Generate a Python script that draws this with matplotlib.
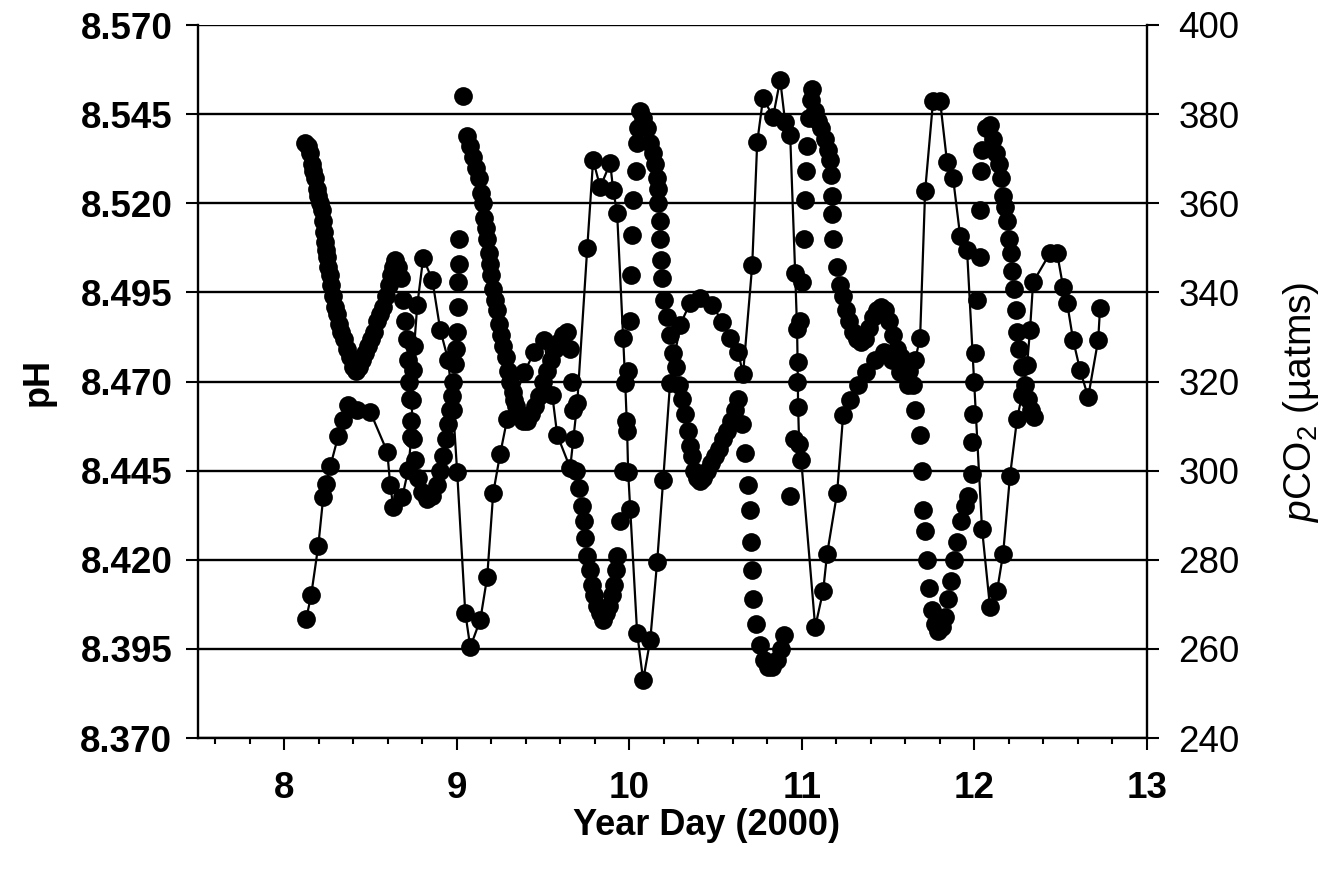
#!/usr/bin/env python3
import matplotlib

matplotlib.use("Agg")
import matplotlib.pyplot as plt
from matplotlib.ticker import FormatStrFormatter, MultipleLocator

plt.rcParams["font.family"] = ["Liberation Sans", "DejaVu Sans"]
plt.rcParams["mathtext.fontset"] = "custom"
plt.rcParams["mathtext.rm"] = "Liberation Sans"
plt.rcParams["mathtext.it"] = "Liberation Sans:italic"

# pH record (dense sampling, drawn as markers only)
PH_DAY = [
    8.122, 8.139, 8.151, 8.162, 8.168, 8.180, 8.191, 8.197, 8.209, 8.220,
    8.226, 8.232, 8.238, 8.243, 8.249, 8.255, 8.267, 8.272, 8.284, 8.296,
    8.307, 8.319, 8.330, 8.348, 8.365, 8.382, 8.400, 8.417, 8.435, 8.452,
    8.469, 8.487, 8.504, 8.521, 8.539, 8.556, 8.574, 8.591, 8.608, 8.620,
    8.632, 8.643, 8.661, 8.678,
    8.689, 8.701, 8.713, 8.718, 8.724, 8.730, 8.736, 8.747, 8.759, 8.776,
    8.800, 8.829, 8.858, 8.886, 8.904, 8.921, 8.939, 8.950, 8.962, 8.973,
    8.979, 8.991, 8.997, 9.002, 9.004, 9.008, 9.010, 9.012, 9.037,
    9.060, 9.078, 9.095, 9.112, 9.130, 9.141, 9.153, 9.159, 9.170, 9.176,
    9.188, 9.194, 9.199, 9.211, 9.223, 9.234, 9.246, 9.257, 9.269, 9.286,
    9.298, 9.309, 9.327, 9.344, 9.362, 9.385, 9.408, 9.431, 9.454, 9.477,
    9.501, 9.524, 9.547, 9.570, 9.593, 9.617, 9.640,
    9.657, 9.669, 9.675, 9.680, 9.692, 9.709, 9.727, 9.738, 9.744, 9.756,
    9.773, 9.785, 9.796, 9.814, 9.831, 9.848, 9.866, 9.883, 9.900, 9.912,
    9.924, 9.929, 9.947, 9.964, 9.982, 9.993, 10.005, 10.011, 10.016, 10.022,
    10.039, 10.042, 10.051, 10.063,
    10.080, 10.103, 10.121, 10.138, 10.150, 10.161, 10.164, 10.167, 10.178, 10.180,
    10.184, 10.190, 10.201, 10.219, 10.236, 10.254, 10.271, 10.289, 10.306, 10.323,
    10.341, 10.352, 10.364, 10.376, 10.393, 10.410, 10.428, 10.451, 10.474, 10.497,
    10.520, 10.544, 10.567, 10.590, 10.613, 10.630,
    10.654, 10.671, 10.688, 10.700, 10.706, 10.712, 10.717, 10.735, 10.758, 10.781,
    10.804, 10.828, 10.856, 10.880, 10.897,
    10.932, 10.955, 10.973, 10.991, 11.002, 11.014, 11.019, 11.021, 11.031, 11.043,
    11.054, 11.060,
    11.077, 11.095, 11.112, 11.135, 11.153, 11.164, 11.170, 11.173, 11.176, 11.182,
    11.205, 11.222,
    11.239, 11.257, 11.274, 11.297, 11.320, 11.343, 11.367, 11.390, 11.413, 11.436,
    11.459, 11.482, 11.506, 11.529, 11.552, 11.575, 11.598, 11.622, 11.645, 11.656,
    11.685, 11.696, 11.702, 11.714, 11.726, 11.737, 11.754, 11.772, 11.789, 11.812,
    11.830, 11.847, 11.865, 11.882, 11.900, 11.923, 11.946, 11.963, 11.986, 11.988,
    11.994, 11.998, 12.003, 12.015, 12.032, 12.034, 12.038, 12.044, 12.067, 12.090,
    12.108, 12.125, 12.143, 12.154, 12.166, 12.177, 12.189, 12.201, 12.212, 12.218,
    12.230, 12.241, 12.247, 12.259, 12.276, 12.293, 12.311, 12.328, 12.345,
]
PH_VALUE = [
    8.537, 8.536, 8.534, 8.531, 8.529, 8.527, 8.524, 8.522, 8.520, 8.518,
    8.515, 8.512, 8.509, 8.507, 8.505, 8.502, 8.500, 8.497, 8.494, 8.491,
    8.489, 8.486, 8.484, 8.482, 8.479, 8.477, 8.474, 8.473, 8.474, 8.476,
    8.478, 8.480, 8.482, 8.484, 8.487, 8.489, 8.491, 8.494, 8.497, 8.500,
    8.502, 8.504, 8.502, 8.499,
    8.493, 8.487, 8.482, 8.476, 8.470, 8.465, 8.459, 8.454, 8.448, 8.443,
    8.439, 8.437, 8.438, 8.441, 8.445, 8.449, 8.454, 8.458, 8.462, 8.466,
    8.470, 8.475, 8.479, 8.484, 8.491, 8.498, 8.503, 8.510, 8.550,
    8.539, 8.536, 8.533, 8.530, 8.527, 8.523, 8.520, 8.516, 8.513, 8.510,
    8.506, 8.503, 8.500, 8.496, 8.493, 8.490, 8.486, 8.483, 8.480, 8.477,
    8.473, 8.470, 8.467, 8.463, 8.461, 8.459, 8.459, 8.461, 8.463, 8.466,
    8.470, 8.473, 8.476, 8.479, 8.481, 8.483, 8.484,
    8.479, 8.470, 8.462, 8.454, 8.445, 8.440, 8.435, 8.431, 8.426, 8.421,
    8.417, 8.413, 8.410, 8.407, 8.405, 8.403, 8.405, 8.407, 8.410, 8.413,
    8.417, 8.421, 8.431, 8.445, 8.459, 8.473, 8.487, 8.500, 8.511, 8.521,
    8.529, 8.537, 8.541, 8.546,
    8.544, 8.541, 8.537, 8.534, 8.531, 8.527, 8.524, 8.520, 8.515, 8.510,
    8.504, 8.499, 8.493, 8.488, 8.483, 8.478, 8.474, 8.469, 8.465, 8.461,
    8.456, 8.452, 8.449, 8.445, 8.443, 8.442, 8.443, 8.445, 8.447, 8.449,
    8.451, 8.454, 8.456, 8.459, 8.462, 8.465,
    8.458, 8.450, 8.441, 8.434, 8.425, 8.417, 8.409, 8.402, 8.396, 8.392,
    8.390, 8.390, 8.392, 8.395, 8.399,
    8.438, 8.454, 8.470, 8.487, 8.498, 8.510, 8.521, 8.529, 8.536, 8.544,
    8.549, 8.552,
    8.546, 8.543, 8.541, 8.538, 8.535, 8.532, 8.528, 8.522, 8.517, 8.510,
    8.502, 8.497,
    8.494, 8.490, 8.487, 8.484, 8.482, 8.481, 8.482, 8.485, 8.488, 8.490,
    8.491, 8.490, 8.487, 8.483, 8.479, 8.477, 8.474, 8.473, 8.469, 8.462,
    8.455, 8.445, 8.434, 8.428, 8.420, 8.412, 8.406, 8.402, 8.400, 8.401,
    8.404, 8.409, 8.414, 8.420, 8.425, 8.431, 8.435, 8.438, 8.444, 8.453,
    8.461, 8.470, 8.478, 8.493, 8.505, 8.518, 8.529, 8.535, 8.541, 8.542,
    8.538, 8.534, 8.531, 8.527, 8.522, 8.519, 8.515, 8.510, 8.506, 8.501,
    8.496, 8.490, 8.484, 8.479, 8.474, 8.469, 8.465, 8.462, 8.460,
]

# pCO2 record (markers joined by a line)
PCO2_DAY = [
    8.127, 8.156, 8.197, 8.226, 8.243, 8.267, 8.313, 8.342, 8.371, 8.423,
    8.498, 8.597, 8.614, 8.632, 8.684, 8.718, 8.736, 8.742, 8.747, 8.753,
    8.771, 8.805, 8.858, 8.904, 8.950, 8.979, 9.002, 9.049, 9.078, 9.136,
    9.176, 9.211, 9.251, 9.292, 9.333, 9.391, 9.449, 9.506, 9.553, 9.582,
    9.657, 9.698, 9.756, 9.790, 9.831, 9.889, 9.906, 9.929, 9.964, 9.976,
    9.987, 9.993, 10.005, 10.045, 10.080, 10.121, 10.161, 10.196, 10.236, 10.294,
    10.352, 10.410, 10.480, 10.538, 10.584, 10.630, 10.659, 10.712, 10.741, 10.775,
    10.833, 10.874, 10.903, 10.932, 10.961, 10.972, 10.975, 10.978, 10.984, 10.996,
    11.077, 11.123, 11.146, 11.204, 11.239, 11.279, 11.326, 11.372, 11.425, 11.477,
    11.523, 11.569, 11.615, 11.656, 11.685, 11.714, 11.760, 11.801, 11.841, 11.876,
    11.917, 11.957, 12.044, 12.090, 12.131, 12.166, 12.206, 12.247, 12.276, 12.305,
    12.322, 12.340, 12.438, 12.479, 12.514, 12.537, 12.572, 12.612, 12.659, 12.717,
    12.728,
]
PCO2_VALUE = [
    266.7, 272.1, 283.1, 294.1, 297.0, 301.0, 307.8, 311.4, 314.7, 313.6,
    313.2, 304.2, 296.8, 291.8, 294.1, 300.1, 307.5, 315.9, 322.6, 328.0,
    337.2, 347.7, 342.8, 331.6, 324.8, 313.6, 299.7, 268.1, 260.4, 266.5,
    276.1, 295.0, 303.7, 311.6, 315.9, 322.1, 326.6, 329.3, 317.0, 308.0,
    300.6, 315.2, 350.0, 369.7, 363.6, 369.0, 363.0, 357.8, 329.8, 319.7,
    308.9, 299.7, 291.4, 263.6, 253.0, 262.0, 279.5, 297.9, 319.7, 332.7,
    337.6, 338.7, 337.2, 333.4, 329.8, 326.6, 321.7, 346.1, 373.7, 383.6,
    379.4, 387.7, 378.2, 375.3, 344.3, 331.8, 324.4, 314.3, 306.0, 302.4,
    264.9, 273.0, 281.3, 295.0, 312.5, 315.9, 319.2, 322.1, 324.8, 326.6,
    324.8, 322.1, 319.2, 324.8, 329.8, 362.7, 382.9, 382.9, 369.3, 365.7,
    352.7, 349.5, 286.9, 269.4, 273.0, 281.3, 298.8, 311.6, 317.0, 323.7,
    331.6, 342.3, 348.8, 348.8, 341.2, 337.6, 329.3, 322.6, 316.5, 329.3,
    336.5,
]

X_TICKS = [8, 9, 10, 11, 12, 13]
PH_TICKS = [8.370, 8.395, 8.420, 8.445, 8.470, 8.495, 8.520, 8.545, 8.570]
PCO2_TICKS = [240, 260, 280, 300, 320, 340, 360, 380, 400]

TICK_SIZE = 26.5
LABEL_SIZE = 26
MARKER_SIZE = 13.5

fig = plt.figure(figsize=(13.31, 8.69), dpi=100)
ax = fig.add_axes([198 / 1331, 131 / 869, 949 / 1331, 713 / 869])
ax2 = ax.twinx()

ax.plot(PH_DAY, PH_VALUE, linestyle="none", marker="o", markersize=MARKER_SIZE,
        color="black", markeredgewidth=0)
ax2.plot(PCO2_DAY, PCO2_VALUE, linestyle="-", linewidth=1.6, marker="o",
         markersize=MARKER_SIZE, color="black", markeredgewidth=0)

ax.set_xlim(7.5, 13)
ax.set_ylim(PH_TICKS[0], PH_TICKS[-1])
ax2.set_ylim(PCO2_TICKS[0], PCO2_TICKS[-1])

ax.set_xticks(X_TICKS)
ax.xaxis.set_minor_locator(MultipleLocator(0.2))
ax.set_yticks(PH_TICKS)
ax.yaxis.set_major_formatter(FormatStrFormatter("%.3f"))
ax2.set_yticks(PCO2_TICKS)

ax.set_axisbelow(True)
ax.grid(axis="y", color="black", linewidth=1.7)

for a in (ax, ax2):
    for side in ("left", "right", "bottom", "top"):
        a.spines[side].set_linewidth(1.7)
    a.spines["top"].set_visible(False)
ax.spines["right"].set_visible(False)
ax2.spines["left"].set_visible(False)
ax2.spines["bottom"].set_visible(False)

ax.tick_params(axis="both", which="major", direction="out", length=8.5, width=1.5,
               labelsize=TICK_SIZE, color="black")
ax.tick_params(axis="x", which="major", pad=15)
ax.tick_params(axis="y", which="major", pad=10)
ax.tick_params(axis="x", which="minor", direction="out", length=4, width=1.5)
ax2.tick_params(axis="y", which="major", direction="out", length=8.5, width=1.5,
                labelsize=TICK_SIZE, pad=14)
for tick in ax.get_xticklabels() + ax.get_yticklabels():
    tick.set_fontweight("bold")

ax.set_xlabel("Year Day (2000)", fontsize=LABEL_SIZE, fontweight="bold")
ax.xaxis.set_label_coords(0.536, -0.098)
ax.set_ylabel("pH", fontsize=LABEL_SIZE, fontweight="bold")
ax.yaxis.set_label_coords(-0.150, 0.5)
ax2.set_ylabel(r"$\mathit{p}$CO$_2$ (µatms)", fontsize=28)
ax2.yaxis.set_label_coords(1.141, 0.471)

fig.savefig("out.png", dpi=100)
